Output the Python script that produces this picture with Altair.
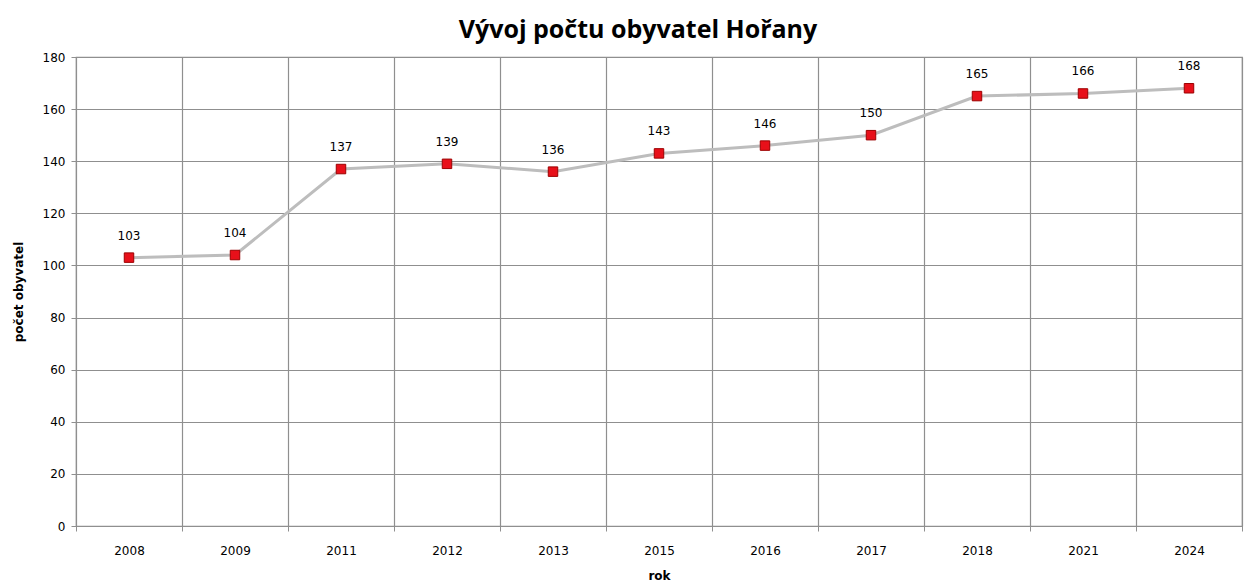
import altair as alt
import pandas as pd

years = ["2008", "2009", "2011", "2012", "2013", "2015", "2016", "2017", "2018", "2021", "2024"]
population = [103, 104, 137, 139, 136, 143, 146, 150, 165, 166, 168]

df = pd.DataFrame({"rok": years, "pocet": population})

GRID = "#8f8f8f"

x = alt.X(
    "rok:O",
    sort=years,
    title="rok",
    scale=alt.Scale(paddingInner=0, paddingOuter=0),
    axis=alt.Axis(
        labelAngle=0,
        tickBand="extent",
        grid=True,
        gridColor=GRID,
        gridWidth=1.2,
        domainColor=GRID,
        tickColor=GRID,
        tickSize=5,
        labelPadding=14,
        labelFont="DejaVu Sans",
        labelFontSize=12,
        labelColor="#000000",
        titleFont="DejaVu Sans",
        titleFontSize=12,
        titleFontWeight="bold",
        titleColor="#000000",
        titlePadding=14,
    ),
)
y = alt.Y(
    "pocet:Q",
    title="počet obyvatel",
    scale=alt.Scale(domain=[0, 180], nice=False),
    axis=alt.Axis(
        values=list(range(0, 181, 20)),
        grid=True,
        gridColor=GRID,
        gridWidth=1.2,
        domainColor=GRID,
        tickColor=GRID,
        tickSize=5,
        labelPadding=6,
        labelFont="DejaVu Sans",
        labelFontSize=12,
        labelColor="#000000",
        titleFont="DejaVu Sans",
        titleFontSize=12,
        titleFontWeight="bold",
        titleColor="#000000",
        titlePadding=17,
    ),
)

base = alt.Chart(df).encode(x=x, y=y)

line = base.mark_line(color="#bdbdbd", strokeWidth=3)
points = base.mark_square(size=90, color="#e8101a", stroke="#9c0000", strokeWidth=1, opacity=1)
labels = base.mark_text(dy=-22, font="DejaVu Sans", fontSize=12, color="#000000").encode(text="pocet:Q")

chart = (
    alt.layer(line, points, labels)
    .properties(
        width=1166,
        height=469,
        padding={"left": 4, "top": 10, "right": 1, "bottom": 5},
        title=alt.TitleParams(
            "Vývoj počtu obyvatel Hořany",
            font="Open Sans",
            fontSize=25,
            fontWeight="bold",
            color="#000000",
            anchor="middle",
            dx=-21,
            offset=8,
        ),
    )
    .configure_view(stroke=GRID, strokeWidth=1.2)
)

chart.save("out.html", embed_options={"renderer": "svg", "actions": False})
